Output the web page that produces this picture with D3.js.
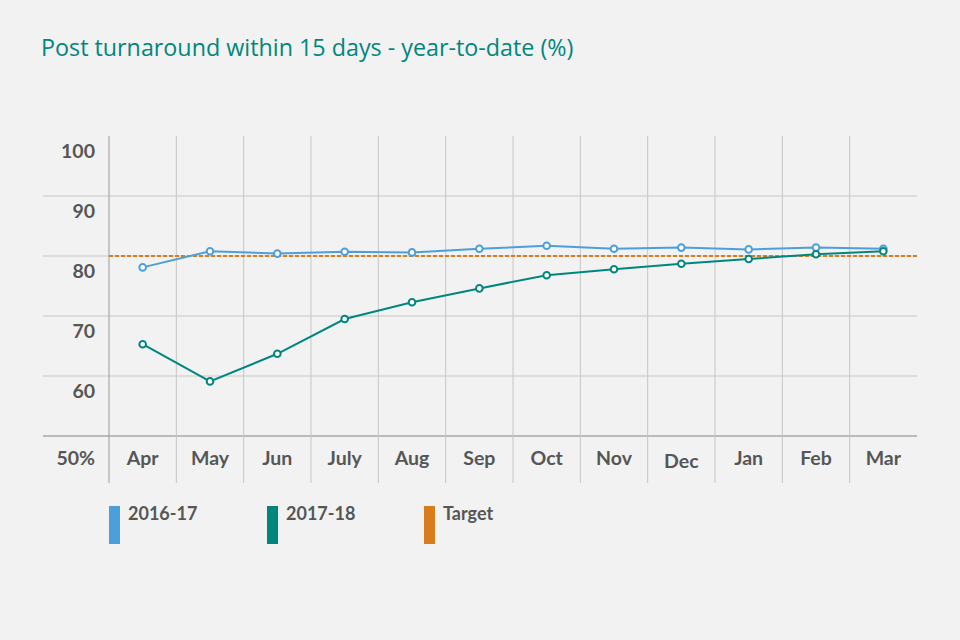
<!DOCTYPE html>
<html>
<head>
<meta charset="utf-8">
<script src="https://cdn.jsdelivr.net/npm/d3@7"></script>
<style>
  body { margin: 0; background: #f2f2f2; }
  text { font-family: Lato, "Open Sans", sans-serif; }
</style>
</head>
<body>
<script>
// data
const months = ["Apr", "May", "Jun", "July", "Aug", "Sep", "Oct", "Nov", "Dec", "Jan", "Feb", "Mar"];
const ytd1617 = [78.1, 80.8, 80.4, 80.7, 80.6, 81.2, 81.7, 81.2, 81.4, 81.1, 81.4, 81.2];
const ytd1718 = [65.3, 59.1, 63.7, 69.5, 72.3, 74.6, 76.8, 77.8, 78.7, 79.5, 80.3, 80.8];
const target = 80;
const yTicks = [50, 60, 70, 80, 90, 100];
const legendItems = ["2016-17", "2017-18", "Target"];

const blue = "#4d9fdc", teal = "#00877d", orange = "#d77d1d";
const textCol = "#565656";

const svg = d3.select("body")
  .append("svg")
  .attr("width", 960)
  .attr("height", 640);

svg.append("rect").attr("width", 960).attr("height", 640).attr("fill", "#f2f2f2");

const x = d3.scaleBand().domain(months).range([109, 917]);
const y = d3.scaleLinear().domain([50, 100]).range([436, 136]);

// title
svg.append("text")
  .attr("x", 41).attr("y", 56)
  .attr("fill", teal)
  .style("font-family", "'Open Sans', 'Noto Sans', sans-serif")
  .attr("font-size", 23.3)
  .text("Post turnaround within 15 days - year-to-date (%)");

// horizontal gridlines (skip 100)
svg.selectAll(".hgrid")
  .data(yTicks.filter(d => d < 100))
  .enter().append("line")
    .attr("x1", 43).attr("x2", 917)
    .attr("y1", d => y(d)).attr("y2", d => y(d))
    .attr("stroke", d => d === 50 ? "#a8a8a8" : "#c6c6c6")
    .attr("stroke-width", d => d === 50 ? 1.5 : 1);

// vertical gridlines at band edges
svg.selectAll(".vgrid")
  .data(months)
  .enter().append("line")
    .attr("x1", d => x(d)).attr("x2", d => x(d))
    .attr("y1", 136).attr("y2", 483)
    .attr("stroke", (d, i) => i === 0 ? "#9a9a9a" : "#c6c6c6")
    .attr("stroke-width", 1);

// y labels, set just under each gridline; 50% sits on the month row
svg.selectAll(".ylab")
  .data(yTicks)
  .enter().append("text")
    .attr("x", 95)
    .attr("y", d => d === 50 ? 465 : y(d) + 22)
    .attr("text-anchor", "end")
    .attr("fill", textCol)
    .attr("font-size", 19.5)
    .attr("font-weight", "bold")
    .text(d => d === 50 ? "50%" : d);

// month labels
svg.selectAll(".xlab")
  .data(months)
  .enter().append("text")
    .attr("x", d => x(d) + x.bandwidth() / 2)
    .attr("y", d => d === "Dec" ? 468 : 465)
    .attr("text-anchor", "middle")
    .attr("fill", textCol)
    .attr("font-size", 19.5)
    .attr("font-weight", "bold")
    .text(d => d);

// target line
svg.append("line")
  .attr("x1", 109).attr("x2", 917)
  .attr("y1", y(target)).attr("y2", y(target))
  .attr("stroke", orange)
  .attr("stroke-width", 2)
  .attr("stroke-dasharray", "4,2");

const line = d3.line()
  .x((d, i) => x(months[i]) + x.bandwidth() / 2)
  .y(d => y(d));

function drawSeries(vals, col) {
  svg.append("path")
    .datum(vals)
    .attr("d", line)
    .attr("fill", "none")
    .attr("stroke", col)
    .attr("stroke-width", 2);
  svg.selectAll(null)
    .data(vals)
    .enter().append("circle")
      .attr("cx", (d, i) => x(months[i]) + x.bandwidth() / 2)
      .attr("cy", d => y(d))
      .attr("r", 3.3)
      .attr("fill", "#ffffff")
      .attr("stroke", col)
      .attr("stroke-width", 2);
}

drawSeries(ytd1617, blue);
drawSeries(ytd1718, teal);

// legend
const legX = [109, 267, 424];
const legCol = [blue, teal, orange];
const leg = svg.selectAll(".leg")
  .data(legendItems)
  .enter().append("g")
    .attr("transform", (d, i) => `translate(${legX[i]},0)`);
leg.append("rect")
  .attr("x", 0).attr("y", 506)
  .attr("width", 11).attr("height", 38)
  .attr("fill", (d, i) => legCol[i]);
leg.append("text")
  .attr("x", 19).attr("y", 520)
  .attr("fill", textCol)
  .attr("font-size", 18)
  .attr("font-weight", "bold")
  .text(d => d);
</script>
</body>
</html>
